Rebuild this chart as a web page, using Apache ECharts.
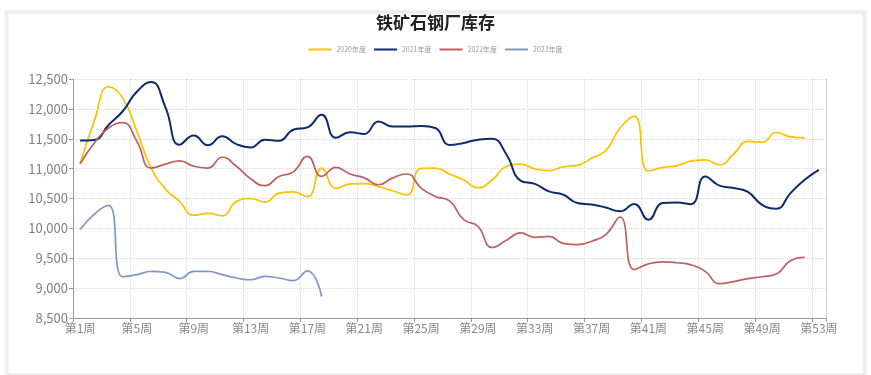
<!DOCTYPE html>
<html>
<head>
<meta charset="utf-8">
<script src="https://cdn.jsdelivr.net/npm/echarts@6/dist/echarts.min.js"></script>
<style>
html,body{margin:0;padding:0;background:#fff;}
#chart{width:871px;height:375px;}
</style>
</head>
<body>
<div id="chart"></div>
<script>
var titleText = '铁矿石钢厂库存';
var seriesNames = ['2020年度', '2021年度', '2022年度', '2023年度'];
var weeks = [];
for (var i = 1; i <= 53; i++) weeks.push('第' + i + '周');
var yTicks = [8500, 9000, 9500, 10000, 10500, 11000, 11500, 12000, 12500];

var data2020 = [11080, 11800, 12370, 12180, 11620, 11010, 10660, 10450, 10220, 10250,
  10210, 10450, 10500, 10440, 10590, 10610, 10530, 11010, 10670, 10745,
  10750, 10700, 10630, 10560, 11005, 11010, 10910, 10810, 10680, 10810,
  11035, 11075, 10995, 10965, 11030, 11055, 11175, 11300, 11680, 11880,
  10960, 11020, 11050, 11125, 11145, 11065, 11245, 11455, 11440, 11605,
  11530, 11515];
var data2021 = [11470, 11480, 11730, 11960, 12290, 12450, 12030, 11400, 11555, 11390,
  11540, 11410, 11355, 11485, 11465, 11650, 11690, 11900, 11515, 11610,
  11580, 11790, 11705, 11705, 11715, 11680, 11395, 11430, 11485, 11500,
  11240, 10800, 10745, 10620, 10565, 10425, 10400, 10350, 10285, 10410,
  10145, 10424, 10435, 10405, 10870, 10715, 10675, 10610, 10395, 10330,
  10590, 10815, 10980];
var data2022 = [11080, 11430, 11680, 11770, 11455, 11010, 11075, 11130, 11040, 11010,
  11190, 11040, 10830, 10715, 10870, 10945, 11205, 10870, 11020, 10910,
  10845, 10730, 10845, 10910, 10675, 10535, 10460, 10145, 10035, 9680,
  9800, 9925, 9850, 9865, 9750, 9727, 9785, 9895, 10190, 9310,
  9405, 9440, 9425, 9390, 9280, 9075, 9110, 9160, 9190, 9235,
  9460, 9515];
var data2023 = [9980, 10240, 10385, 9190, 9225, 9280, 9265, 9160, 9280, 9280,
  9225, 9170, 9140, 9195, 9170, 9125, 9290, 8860];

var colors = ['#FFC000', '#0D2A6B', '#BE6060', '#7F98C6'];
var allData = [data2020, data2021, data2022, data2023];

var chart = echarts.init(document.getElementById('chart'));
var series = seriesNames.map(function (n, i) {
  return {
    name: n,
    type: 'line',
    smooth: 0.5,
    symbol: 'none',
    data: allData[i],
    lineStyle: { width: i === 1 ? 2 : 1.7, color: colors[i] },
    itemStyle: { color: colors[i] }
  };
});

chart.setOption({
  animation: false,
  backgroundColor: '#fff',
  graphic: [{
    type: 'rect',
    shape: { x: 6.7, y: 12, width: 858, height: 363 },
    style: { fill: 'none', stroke: '#eeeeee', lineWidth: 4 },
    silent: true
  }],
  title: {
    text: titleText,
    left: 'center',
    top: 9,
    textStyle: { fontSize: 17, fontWeight: 'bold', color: '#222', fontFamily: 'Noto Sans CJK SC' }
  },
  legend: {
    top: 41,
    left: 'center',
    icon: 'rect',
    itemWidth: 23,
    itemHeight: 2,
    itemGap: 8,
    textStyle: { fontSize: 7, color: '#999', fontFamily: 'Noto Sans CJK SC' },
    data: seriesNames
  },
  grid: { left: 73, right: 45, top: 79, bottom: 57 },
  xAxis: {
    type: 'category',
    data: weeks,
    boundaryGap: true,
    axisLine: { lineStyle: { color: '#999' } },
    axisTick: { show: true, interval: 3, length: 4, lineStyle: { color: '#999' } },
    axisLabel: { interval: 3, margin: 4, fontSize: 12, color: '#888', fontFamily: 'Noto Sans CJK SC' },
    splitLine: { show: true, interval: 3, lineStyle: { color: '#d9d9d9', type: 'dotted' } }
  },
  yAxis: [{
    type: 'value',
    min: yTicks[0],
    max: yTicks[yTicks.length - 1],
    interval: 500,
    axisLine: { show: true, lineStyle: { color: '#999' } },
    axisTick: { show: true, length: 4, lineStyle: { color: '#999' } },
    axisLabel: {
      margin: 5, fontSize: 13, color: '#808080', fontFamily: 'Noto Sans CJK SC',
      formatter: function (v) { return v.toLocaleString('en-US'); }
    },
    splitLine: { show: true, lineStyle: { color: '#d9d9d9', type: 'dotted' } }
  }, {
    type: 'value',
    position: 'right',
    min: yTicks[0],
    max: yTicks[yTicks.length - 1],
    interval: 500,
    axisLine: { show: true, lineStyle: { color: '#d0d0d0' } },
    axisTick: { show: false },
    axisLabel: { show: false },
    splitLine: { show: false }
  }],
  series: series
});
</script>
</body>
</html>
